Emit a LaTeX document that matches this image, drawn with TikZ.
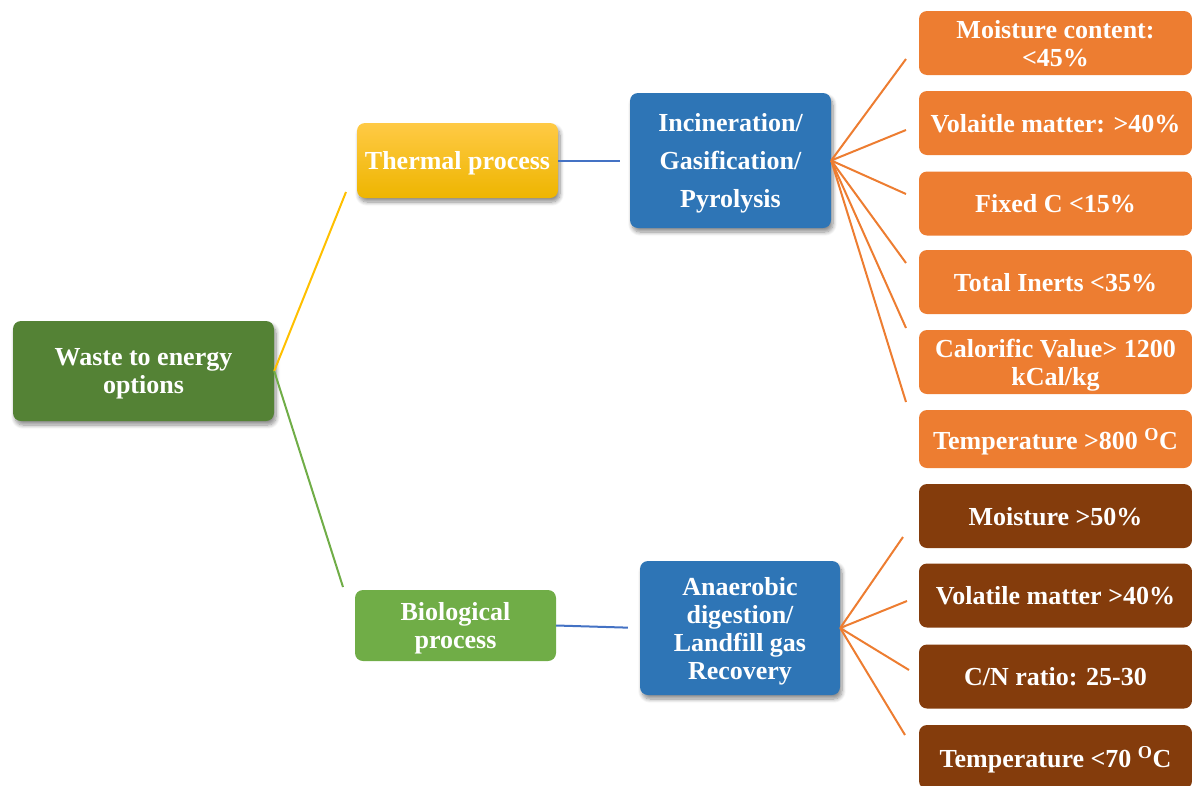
\documentclass[tikz,border=0pt]{standalone}
\usepackage{fontspec}
\setmainfont{Liberation Serif}
\usetikzlibrary{shadows.blur}

\definecolor{rootgreen}{HTML}{548235}
\definecolor{biogreen}{HTML}{70AD47}
\definecolor{goldtop}{HTML}{FFCA45}
\definecolor{goldbot}{HTML}{EEB500}
\definecolor{procblue}{HTML}{2E75B6}
\definecolor{lineblue}{HTML}{4472C4}
\definecolor{lineyellow}{HTML}{FFC000}
\definecolor{orangebox}{HTML}{ED7D31}
\definecolor{brownbox}{HTML}{843C0C}

\tikzset{
  box/.style={rectangle, rounded corners=8pt, align=center, text=white, inner sep=2pt,
    text depth=0pt, font=\fontsize{26}{28}\selectfont\bfseries},
  shad/.style={blur shadow={shadow xshift=2pt, shadow yshift=-4pt, shadow blur radius=4pt,
    shadow blur steps=8, shadow opacity=45}},
  conn/.style={line width=2pt},
  prop/.style={box, minimum width=273pt, minimum height=64pt},
}

\begin{document}
\begin{tikzpicture}[x=1pt,y=-1pt]
\useasboundingbox (0,0) rectangle (1192,785);

% main nodes
\node[box, shad, fill=rootgreen, minimum width=261pt, minimum height=100pt] (root) at (143.5,371) {Waste to energy\\options};
\node[box, shad, top color=goldtop, bottom color=goldbot, minimum width=201pt, minimum height=75pt] (thermal) at (457.5,160.5) {Thermal process};
\node[box, shad, fill=procblue, minimum width=201pt, minimum height=135pt,
      font=\fontsize{26}{38}\selectfont\bfseries] (incin) at (730.5,160.5) {Incineration/\\Gasification/\\Pyrolysis};
\node[box, fill=biogreen, minimum width=201pt, minimum height=71pt] (bio) at (455.5,625.5) {Biological\\process};
\node[box, shad, fill=procblue, minimum width=200pt, minimum height=134pt] (anaer) at (740,628) {Anaerobic\\digestion/\\Landfill gas\\Recovery};

% thermal properties
\node[prop, fill=orangebox] (o1) at (1055.5,43) {Moisture content:\\<45\%};
\node[prop, fill=orangebox] (o2) at (1055.5,123) {Volaitle matter: >40\%};
\node[prop, fill=orangebox] (o3) at (1055.5,203.5) {Fixed C <15\%};
\node[prop, fill=orangebox] (o4) at (1055.5,282) {Total Inerts <35\%};
\node[prop, fill=orangebox] (o5) at (1055.5,362) {Calorific Value> 1200\\kCal/kg};
\node[prop, fill=orangebox, minimum height=58pt] (o6) at (1055.5,439) {Temperature >800 \textsuperscript{O}C};

% biological properties
\node[prop, fill=brownbox] (b1) at (1055.5,516) {Moisture >50\%};
\node[prop, fill=brownbox] (b2) at (1055.5,595.5) {Volatile matter >40\%};
\node[prop, fill=brownbox] (b3) at (1055.5,676.5) {C/N ratio: 25-30};
\node[prop, fill=brownbox] (b4) at (1055.5,757) {Temperature <70 \textsuperscript{O}C};

% free line ends
\coordinate (rt) at (346,192);
\coordinate (rb) at (343,587);
\coordinate (e1) at (906,59);
\coordinate (e2) at (906,130);
\coordinate (e3) at (906,194);
\coordinate (e4) at (906,263);
\coordinate (e5) at (906,328);
\coordinate (e6) at (906,402);
\coordinate (f1) at (903,537);
\coordinate (f2) at (907,601);
\coordinate (f3) at (909,670);
\coordinate (f4) at (905,735);

% connectors
\draw[conn, lineyellow] (root.east) -- (rt);
\draw[conn, biogreen] (root.east) -- (rb);
\draw[conn, lineblue, shorten >=10pt] (thermal.east) -- (incin.west);
\draw[conn, lineblue, shorten >=12pt] (bio.east) -- (anaer.west);
\foreach \e in {e1,e2,e3,e4,e5,e6} \draw[conn, orangebox] (incin.east) -- (\e);
\foreach \f in {f1,f2,f3,f4} \draw[conn, orangebox] (anaer.east) -- (\f);
\end{tikzpicture}
\end{document}
